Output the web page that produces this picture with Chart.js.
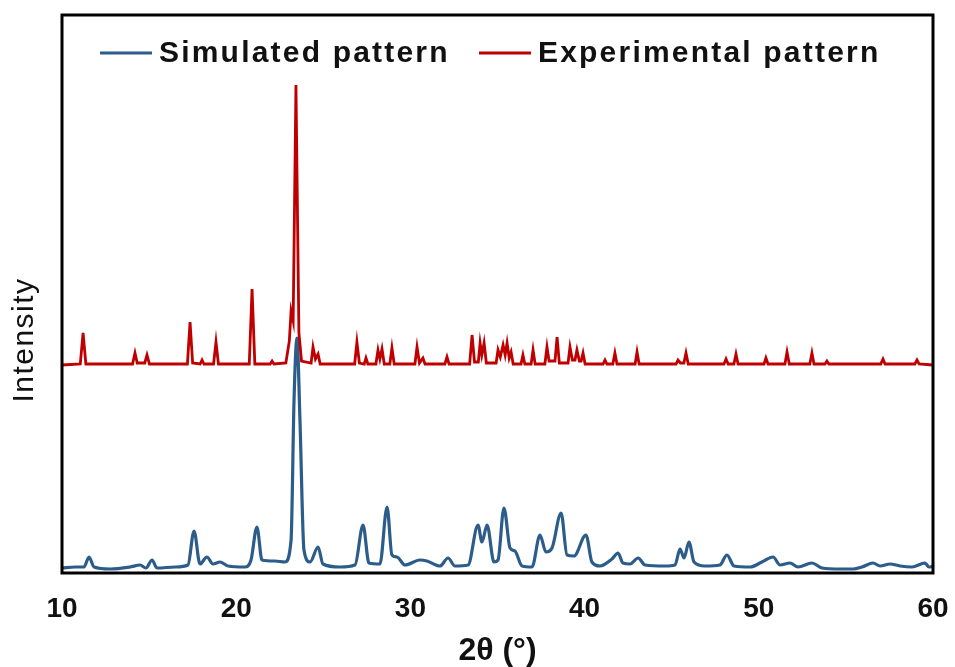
<!DOCTYPE html>
<html>
<head>
<meta charset="utf-8">
<script src="https://cdn.jsdelivr.net/npm/chart.js@4/dist/chart.umd.min.js"></script>
<style>
  html, body { margin: 0; padding: 0; background: #fff; }
  #wrap { width: 955px; height: 667px; }
</style>
</head>
<body>
<div id="wrap"><canvas id="xrd" width="955" height="667"></canvas></div>
<script>
// Simulated powder pattern (2θ in degrees, intensity in arbitrary units)
const simAngle = [10.0, 10.75, 11.26, 11.55, 11.84, 12.76, 13.9, 14.48, 14.82, 15.17, 15.45, 16.49, 17.23, 17.58, 17.92, 18.32, 18.67, 19.07, 19.53, 20.5, 20.85, 21.19, 21.48, 22.23, 22.8, 23.15, 23.32, 23.49, 23.66, 23.89, 24.24, 24.7, 24.98, 25.96, 26.82, 27.28, 27.62, 28.25, 28.66, 28.94, 29.23, 29.69, 30.55, 30.95, 31.7, 32.16, 32.56, 33.31, 33.88, 34.11, 34.4, 34.8, 35.03, 35.37, 35.72, 36.0, 36.41, 36.98, 37.44, 37.78, 38.13, 38.65, 38.99, 39.39, 40.08, 40.42, 40.88, 41.57, 41.92, 42.2, 42.61, 43.07, 43.47, 44.62, 45.19, 45.48, 45.71, 45.99, 46.28, 46.91, 47.77, 48.17, 48.58, 49.5, 50.18, 50.82, 51.22, 51.79, 52.25, 53.05, 53.63, 54.66, 55.41, 55.92, 56.56, 56.96, 57.53, 58.11, 58.79, 59.54, 59.77, 60.0];
const simIntensity = [5, 6, 6, 16, 6, 4, 6, 8, 5, 13, 5, 6, 8, 42, 9, 16, 9, 11, 7, 6, 13, 46, 13, 12, 11, 33, 173, 235, 153, 23, 11, 26, 9, 6, 8, 48, 10, 9, 66, 18, 16, 8, 13, 12, 7, 15, 7, 8, 48, 31, 48, 11, 13, 65, 25, 22, 7, 6, 38, 21, 25, 60, 18, 17, 38, 11, 7, 14, 20, 10, 9, 15, 8, 7, 8, 24, 15, 31, 11, 7, 8, 18, 7, 6, 11, 16, 8, 10, 6, 10, 5, 4, 4, 6, 10, 7, 9, 7, 6, 10, 6, 7];

// Measured pattern, plotted above the simulated one
const expAngle = [10, 11.05, 11.21, 11.37, 14.05, 14.19, 14.32, 14.75, 14.88, 15.02, 17.2, 17.35, 17.5, 17.93, 18.04, 18.15, 18.7, 18.84, 18.98, 20.75, 20.91, 21.07, 21.95, 22.06, 22.17, 22.85, 23.05, 23.15, 23.27, 23.43, 23.6, 23.75, 24.3, 24.41, 24.55, 24.7, 24.82, 26.8, 26.93, 27.07, 27.35, 27.45, 27.56, 28.02, 28.14, 28.25, 28.37, 28.5, 28.82, 28.94, 29.07, 30.26, 30.38, 30.52, 30.72, 30.84, 31.98, 32.1, 32.22, 33.4, 33.54, 33.68, 33.9, 34.0, 34.1, 34.23, 34.36, 34.92, 35.03, 35.16, 35.32, 35.44, 35.55, 35.67, 35.78, 35.9, 36.35, 36.46, 36.57, 36.93, 37.04, 37.16, 37.72, 37.84, 37.96, 38.3, 38.42, 38.55, 39.05, 39.16, 39.3, 39.45, 39.56, 39.7, 39.8, 39.91, 40.03, 41.06, 41.17, 41.28, 41.62, 41.74, 41.86, 42.9, 43.01, 43.13, 45.25, 45.36, 45.5, 45.7, 45.82, 45.95, 48.0, 48.12, 48.24, 48.57, 48.69, 48.81, 50.3, 50.41, 50.53, 51.5, 51.62, 51.75, 52.93, 53.05, 53.17, 53.8, 53.91, 54.02, 57.0, 57.13, 57.25, 58.96, 59.08, 59.2, 60];
const expIntensity = [208, 209, 240, 209, 209, 220, 210, 210, 218, 209, 209, 251, 210, 209, 213, 209, 209, 231, 209, 209, 284, 209, 209, 212, 209, 210, 232, 262, 252, 488, 240, 212, 210, 226, 214, 219, 209, 209, 231, 210, 209, 215, 209, 209, 223, 214, 224, 209, 209, 225, 209, 209, 226, 210, 215, 209, 209, 216, 209, 209, 238, 211, 211, 230, 218, 230, 210, 210, 223, 216, 228, 218, 230, 215, 221, 209, 209, 218, 209, 209, 223, 209, 209, 226, 212, 212, 236, 210, 210, 226, 213, 213, 223, 212, 212, 220, 209, 209, 213, 209, 209, 220, 209, 209, 221, 209, 209, 213, 210, 210, 220, 209, 209, 214, 209, 209, 219, 209, 209, 215, 209, 209, 221, 209, 209, 220, 209, 209, 212, 209, 209, 214, 209, 209, 213, 209, 208];

const angleTicks = [10, 20, 30, 40, 50, 60];
const seriesNames = ['Simulated pattern', 'Experimental pattern'];
const seriesColors = ['#2B5C8A', '#C00000'];

const toPoints = (xs, ys) => xs.map((x, i) => ({ x: x, y: ys[i] }));

// Black box around the plotting area
const frameBox = {
  id: 'frameBox',
  afterDraw(chart) {
    const { ctx, chartArea: a } = chart;
    ctx.save();
    ctx.strokeStyle = '#000';
    ctx.lineWidth = 3;
    ctx.strokeRect(a.left, a.top, a.right - a.left, a.bottom - a.top);
    ctx.restore();
  }
};

// Series key inside the frame, line sample followed by bold label
const seriesKey = {
  id: 'seriesKey',
  afterDraw(chart) {
    const { ctx } = chart;
    const starts = [100, 479];
    ctx.save();
    ctx.font = 'bold 30px "Liberation Sans", Arial, sans-serif';
    ctx.letterSpacing = '2.2px';
    ctx.textBaseline = 'middle';
    ctx.textAlign = 'left';
    chart.data.datasets.forEach((ds, i) => {
      const x0 = starts[i];
      ctx.strokeStyle = ds.borderColor;
      ctx.lineWidth = 3;
      ctx.beginPath();
      ctx.moveTo(x0, 53);
      ctx.lineTo(x0 + 52, 53);
      ctx.stroke();
      ctx.fillStyle = '#111';
      ctx.fillText(ds.label, x0 + 59, 54);
    });
    ctx.restore();
  }
};

// Vertical axis caption
const intensityCaption = {
  id: 'intensityCaption',
  afterDraw(chart) {
    const { ctx } = chart;
    ctx.save();
    ctx.translate(25, 340);
    ctx.rotate(-Math.PI / 2);
    ctx.font = '30px "Liberation Sans", Arial, sans-serif';
    ctx.letterSpacing = '1.5px';
    ctx.textAlign = 'center';
    ctx.textBaseline = 'middle';
    ctx.fillStyle = '#111';
    ctx.fillText('Intensity', 0, 0);
    ctx.restore();
  }
};

new Chart(document.getElementById('xrd'), {
  type: 'scatter',
  data: {
    datasets: [
      {
        label: seriesNames[0],
        data: toPoints(simAngle, simIntensity),
        showLine: true,
        borderColor: seriesColors[0],
        borderWidth: 3.2,
        pointRadius: 0,
        cubicInterpolationMode: 'monotone',
        order: 2
      },
      {
        label: seriesNames[1],
        data: toPoints(expAngle, expIntensity),
        showLine: true,
        borderColor: seriesColors[1],
        borderWidth: 2.8,
        pointRadius: 0,
        tension: 0,
        order: 1
      }
    ]
  },
  options: {
    responsive: false,
    animation: false,
    events: [],
    layout: { padding: { top: 15, right: 22, left: 0, bottom: 0 } },
    plugins: {
      legend: { display: false },
      tooltip: { enabled: false }
    },
    scales: {
      x: {
        type: 'linear',
        min: 10,
        max: 60,
        afterBuildTicks(scale) { scale.ticks = angleTicks.map(v => ({ value: v })); },
        afterFit(scale) {
          scale.height = 94;
          scale.paddingLeft = 0;
          scale.paddingRight = 0;
        },
        grid: { display: false, drawTicks: false },
        border: { display: false },
        ticks: {
          color: '#111',
          padding: 19,
          font: { family: '"Liberation Sans", Arial, sans-serif', size: 28, weight: 'bold' }
        },
        title: {
          display: true,
          text: '2θ (°)',
          color: '#111',
          padding: { top: 0, bottom: -3 },
          font: { family: '"Liberation Sans", Arial, sans-serif', size: 32, weight: 'bold' }
        }
      },
      y: {
        min: 0,
        max: 558,
        afterFit(scale) { scale.width = 62; },
        grid: { display: false, drawTicks: false },
        border: { display: false },
        ticks: { display: false }
      }
    }
  },
  plugins: [frameBox, seriesKey, intensityCaption]
});
</script>
</body>
</html>
